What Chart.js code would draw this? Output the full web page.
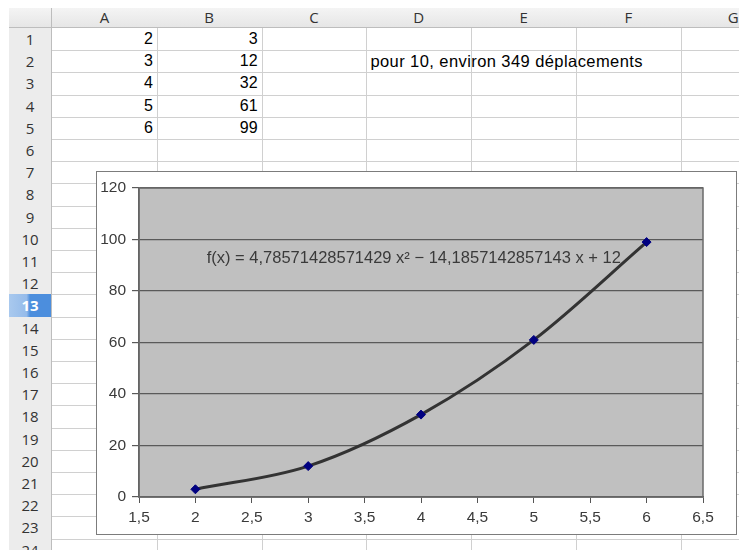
<!DOCTYPE html>
<html>
<head>
<meta charset="utf-8">
<script src="https://cdn.jsdelivr.net/npm/chart.js@4/dist/chart.umd.min.js"></script>
<style>
  html, body { margin: 0; padding: 0; background: #fff; width: 739px; height: 550px; overflow: hidden; }
  #sheet { position: absolute; left: 0; top: 0; width: 739px; height: 550px; }
  .hdr { position: absolute; box-sizing: border-box; background: linear-gradient(#f4f4f4, #e6e6e6);
         border-right: 1px solid #bdbdbd; border-bottom: 1px solid #bdbdbd;
         font-family: "Open Sans", "DejaVu Sans", sans-serif; font-size: 15px; color: #333;
         text-align: center; }
  .rowhdr { background: #ececec; }
  .sel { background: linear-gradient(to right, #a9c9ee 0%, #95bbea 42%, #4c8edd 50%, #4c8edd 100%); color: #fff; font-weight: bold; }
  .cell { position: absolute; box-sizing: border-box; border-right: 1px solid #d0d0d0; border-bottom: 1px solid #d0d0d0;
          font-family: "Liberation Sans", Arial, sans-serif; font-size: 16px; color: #000; white-space: nowrap; overflow: visible; }
  .num { text-align: right; padding-right: 4px; }
  .txt { text-align: left; padding-left: 4px; font-size: 16.5px; letter-spacing: 0.42px; }
  #chartbox { position: absolute; left: 96px; top: 171px; width: 641px; height: 364px; box-sizing: border-box;
              border: 1px solid #7c7c7c; background: #fff; }
  #chart { position: absolute; left: 0; top: 0; }
</style>
</head>
<body>
<div id="sheet"></div>
<div id="chartbox"><canvas id="chart" width="639" height="362"></canvas></div>
<script>
// ---- data ----
const xValues = [2, 3, 4, 5, 6];
const yValues = [3, 12, 32, 61, 99];
const xTickLabels = ['1,5', '2', '2,5', '3', '3,5', '4', '4,5', '5', '5,5', '6', '6,5'];
const yTickLabels = ['0', '20', '40', '60', '80', '100', '120'];
const columnLetters = ['A', 'B', 'C', 'D', 'E', 'F', 'G'];
const rowNumbers = [1,2,3,4,5,6,7,8,9,10,11,12,13,14,15,16,17,18,19,20,21,22,23,24];
const noteText = 'pour 10, environ 349 déplacements';
const equationText = 'f(x) = 4,78571428571429 x² − 14,1857142857143 x + 12';

// ---- spreadsheet grid ----
const sheet = document.getElementById('sheet');
const left0 = 9, top0 = 8, hdrW = 43, hdrH = 20, colW = 104.8, rowH = 22.2;
function div(cls, x, y, w, h, text) {
  const d = document.createElement('div');
  d.className = cls;
  d.style.left = x + 'px'; d.style.top = y + 'px';
  d.style.width = w + 'px'; d.style.height = h + 'px';
  d.style.lineHeight = (h - 1) + 'px';
  if (text !== undefined) d.textContent = text;
  sheet.appendChild(d);
  return d;
}
div('hdr', left0, top0, hdrW, hdrH);
columnLetters.forEach((c, i) => div('hdr', left0 + hdrW + i * colW, top0, colW + 1, hdrH, c));
rowNumbers.forEach((r, i) => {
  const y = top0 + hdrH + i * rowH;
  div('hdr rowhdr' + (r === 13 ? ' sel' : ''), left0, y, hdrW, rowH + 1, String(r));
  columnLetters.forEach((c, j) => {
    const x = left0 + hdrW + j * colW;
    let text, cls = 'cell';
    if (j === 0 && i < xValues.length) { text = String(xValues[i]); cls += ' num'; }
    if (j === 1 && i < yValues.length) { text = String(yValues[i]); cls += ' num'; }
    if (j === 3 && r === 2) { text = noteText; cls += ' txt'; }
    const d = div(cls, x, y, colW + 1, rowH + 1, text);
    if (j === 3 && r === 2) d.style.zIndex = 2;
  });
});

// ---- chart ----
const plotBg = {
  id: 'plotBg',
  beforeDraw(chart) {
    const a = chart.chartArea, ctx = chart.ctx;
    ctx.save();
    ctx.fillStyle = '#c0c0c0';
    ctx.fillRect(a.left, a.top, a.right - a.left, a.bottom - a.top);
    ctx.restore();
  },
  afterDatasetsDraw(chart) {
    const a = chart.chartArea, ctx = chart.ctx;
    ctx.save();
    ctx.strokeStyle = '#6a6a6a';
    ctx.lineWidth = 1.5;
    ctx.strokeRect(a.left, a.top, a.right - a.left, a.bottom - a.top);
    ctx.restore();
  }
};
const equationLabel = {
  id: 'equationLabel',
  beforeDatasetsDraw(chart) {
    const ctx = chart.ctx;
    const x = chart.scales.x.getPixelForValue(2.1);
    const y = chart.scales.y.getPixelForValue(92.6);
    ctx.save();
    ctx.font = '16.5px "Liberation Sans", Arial, sans-serif';
    ctx.fillStyle = '#3a3a3a';
    ctx.textBaseline = 'middle';
    ctx.textAlign = 'left';
    ctx.fillText(equationText, x, y);
    ctx.restore();
  }
};

const tickFont = { family: '"Liberation Sans", Arial, sans-serif', size: 15.5 };
new Chart(document.getElementById('chart'), {
  type: 'scatter',
  data: {
    datasets: [
      {
        type: 'line',
        data: xValues.map((x, i) => ({ x, y: yValues[i] })),
        borderColor: '#333333',
        borderWidth: 3,
        pointRadius: 0,
        cubicInterpolationMode: 'monotone',
        fill: false,
        order: 2
      },
      {
        data: xValues.map((x, i) => ({ x, y: yValues[i] })),
        pointStyle: 'rectRot',
        pointRadius: 4.5,
        backgroundColor: '#000080',
        borderColor: '#000080',
        borderWidth: 1,
        showLine: false,
        order: 1
      }
    ]
  },
  options: {
    responsive: false,
    animation: false,
    events: [],
    layout: { padding: { top: 16, right: 33, left: 0, bottom: 0 } },
    plugins: { legend: { display: false }, tooltip: { enabled: false } },
    scales: {
      x: {
        type: 'linear', min: 1.5, max: 6.5,
        afterFit(s) { s.height = 37; },
        afterBuildTicks(s) { s.ticks = xTickLabels.map((_, i) => ({ value: 1.5 + i * 0.5 })); },
        ticks: { font: tickFont, color: '#3a3a3a', padding: 5, maxRotation: 0, autoSkip: false,
                 callback: (v, i) => xTickLabels[i] },
        grid: { drawOnChartArea: false, drawTicks: true, tickLength: 6, color: '#555555', lineWidth: 1 },
        border: { display: true, color: '#555555', width: 1.5 }
      },
      y: {
        min: 0, max: 120,
        afterFit(s) { s.width = 42; },
        afterBuildTicks(s) { s.ticks = yTickLabels.map(t => ({ value: Number(t) })); },
        ticks: { font: tickFont, color: '#3a3a3a', padding: 6, callback: (v, i) => yTickLabels[i] },
        grid: { color: '#5a5a5a', lineWidth: 1.2, tickLength: 7 },
        border: { display: true, color: '#555555', width: 1.5 }
      }
    }
  },
  plugins: [plotBg, equationLabel]
});
</script>
</body>
</html>
